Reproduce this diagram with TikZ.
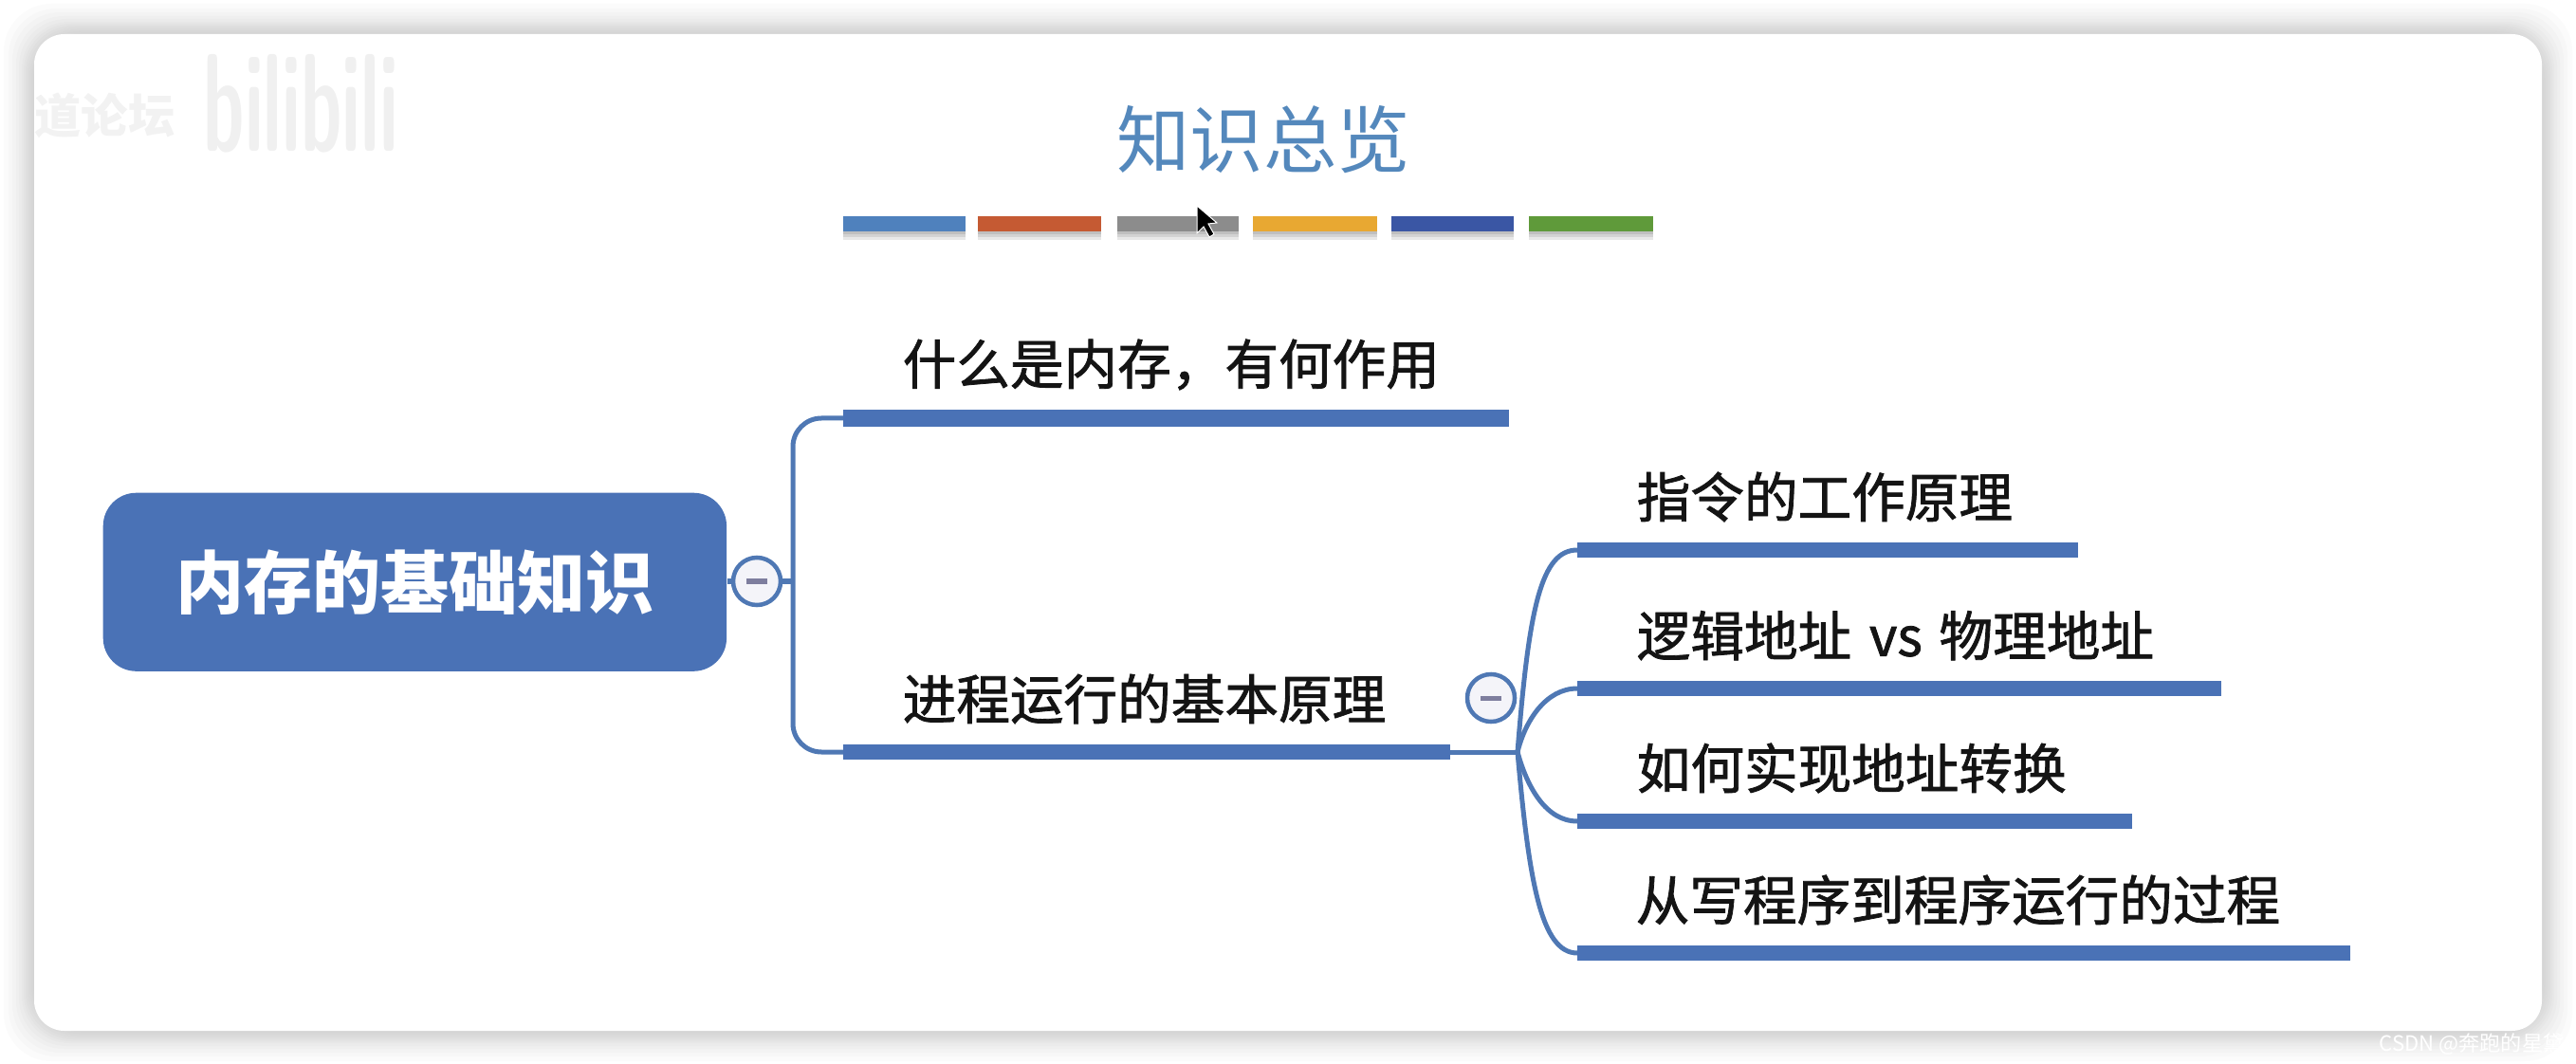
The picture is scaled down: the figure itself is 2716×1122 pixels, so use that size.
\documentclass[tikz,border=0pt]{standalone}
\usepackage{fontspec}
\setmainfont{Noto Sans CJK SC}
\newfontfamily\cjkmed[FakeBold=1.4]{Noto Sans CJK SC}
\usetikzlibrary{arrows.meta,positioning,calc}
\definecolor{mapblue}{HTML}{4A72B6}
\definecolor{linkblue}{HTML}{4F78B4}
\definecolor{titleblue}{HTML}{5488BC}
\definecolor{foldfill}{HTML}{F4F4F9}
\definecolor{foldbar}{HTML}{7E7E9E}

\begin{document}
\begin{tikzpicture}[
  x=0.01cm, y=-0.01cm,
  rootbox/.style={draw=none, fill=mapblue, rounded corners=0.35cm, minimum width=6.57cm, minimum height=1.88cm, inner sep=0pt, text=white, font=\fontsize{20.5pt}{24pt}\bfseries},
  bar/.style={fill=mapblue, inner sep=0pt, outer sep=0pt, minimum height=0.16cm},
  topic/.style={inner sep=0pt, text=black!92, font=\fontsize{16.1pt}{19pt}\cjkmed},
  link/.style={draw=linkblue, line width=0.05cm},
  fold/.style={circle, draw=linkblue, line width=0.045cm, fill=foldfill, minimum size=0.5cm, inner sep=0pt},
  foldmark/.style={draw=foldbar, line width=0.05cm}
]
  \useasboundingbox (0,0) rectangle (2716,1122);

  % card with soft shadow
  \foreach \r in {32,27,23,19,16,13,11,9,7,5,3,1}
    \fill[black, opacity=0.014, rounded corners=0.5cm] (36-\r,36-\r) rectangle (2680+\r,1087+\r);
  \fill[white, rounded corners=0.32cm] (36,36) rectangle (2680,1087);

  % screen-recording marks
  \node[inner sep=0pt, anchor=west, text=black!5, font=\fontsize{14pt}{17pt}\bfseries] (markl) at (36,122) {道论坛};
  \node[inner sep=0pt, anchor=west, text=black!6, yscale=1.9, font=\fontsize{22pt}{26pt}\bfseries\sffamily] (markb) at (214,109) {bilibili};
  \node[inner sep=0pt, anchor=west, text=white, font=\fontsize{6.3pt}{8pt}\selectfont] (markc) at (2508,1101) {CSDN @奔跑的星黛};

  % title and colour strip
  \node[inner sep=0pt, text=titleblue, font=\fontsize{22pt}{26pt}\selectfont] (title) at (1332,147) {知识总览};
  \foreach \n/\xa/\xb/\c in {a/889/1018/4F81BD, b/1031/1161/C55A33, c/1178/1306/8C8C8C, d/1321/1452/E8A832, e/1467/1596/3A56A4, f/1612/1743/5F9A3A} {
    \definecolor{swatchcol}{HTML}{\c}
    \foreach \s in {9,6,3}
      \fill[black, opacity=0.09] (\xa,232+\s) rectangle (\xb,244+\s);
    \fill[swatchcol] (\xa,228) rectangle (\xb,244);
    \coordinate (sw\n) at (\xa,236);
  }

  % root and first level
  \node[rootbox, anchor=north west] (root) at (108,519) {内存的基础知识};
  \node[fold] (foldroot) at (798,613) {};
  \node[bar, anchor=west, minimum width=7.02cm, minimum height=0.18cm] (mem) at (889,441) {};
  \node[bar, anchor=west, minimum width=6.40cm] (proc) at (889,793) {};
  \node[topic, above right=0.2cm and 0.62cm of mem.north west] (memtxt) {什么是内存，有何作用};
  \node[topic, above right=0.21cm and 0.62cm of proc.north west] (proctxt) {进程运行的基本原理};

  \draw[link] (root.east |- foldroot) -- (foldroot.west);
  \draw[link] (foldroot.east) -- (836,613);
  \coordinate (spine) at (836,613);
  \draw[link, rounded corners=0.3cm] (mem.west) -- (spine |- mem.west) -- (spine |- proc.west) -- (proc.west);
  \draw[foldmark] ($(foldroot.center)+(-11,0)$) -- ($(foldroot.center)+(11,0)$);

  % second level
  \node[bar, anchor=west, minimum width=5.28cm] (instr) at (1663,580) {};
  \node[bar, anchor=west, minimum width=6.79cm] (addr) at (1663,726) {};
  \node[bar, anchor=west, minimum width=5.85cm] (conv) at (1663,866) {};
  \node[bar, anchor=west, minimum width=8.14cm] (flow) at (1663,1005) {};
  \node[topic, above right=0.21cm and 0.62cm of instr.north west] (instrtxt) {指令的工作原理};
  \node[topic, above right=0.21cm and 0.62cm of addr.north west] (addrtxt) {逻辑地址\hspace{0.06cm} vs\hspace{0.05cm} 物理地址};
  \node[topic, above right=0.21cm and 0.62cm of conv.north west] (convtxt) {如何实现地址转换};
  \node[topic, above right=0.21cm and 0.61cm of flow.north west] (flowtxt) {从写程序到程序运行的过程};

  \coordinate (hub) at (1600,793);
  \draw[link] (proc.east) -- (hub);
  \draw[link] (hub) .. controls (1612,640) and (1625,580) .. (instr.west);
  \draw[link] (hub) .. controls (1608,760) and (1630,726) .. (addr.west);
  \draw[link] (hub) .. controls (1610,830) and (1630,866) .. (conv.west);
  \draw[link] (hub) .. controls (1612,930) and (1625,1005) .. (flow.west);
  \node[fold] (foldproc) at (1572,736) {};
  \draw[foldmark] ($(foldproc.center)+(-11,0)$) -- ($(foldproc.center)+(11,0)$);

  % pointer
  \fill[black, draw=white, line width=0.01cm] (1262,217) -- (1262,246) -- (1269,239) -- (1275,250) -- (1280,247) -- (1274,236) -- (1283,235) -- cycle;
\end{tikzpicture}
\end{document}
